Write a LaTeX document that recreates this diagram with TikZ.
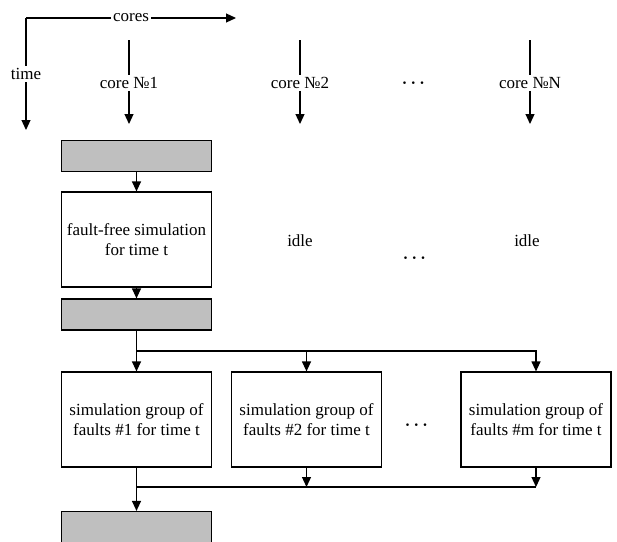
\documentclass[tikz,border=0pt]{standalone}
\usepackage{amsmath}
\usepackage{fontspec}
\setmainfont{Liberation Serif}
\usetikzlibrary{arrows.meta, positioning}

\tikzset{
  blk/.style={draw, line width=1.2pt, minimum width=150pt, minimum height=95pt, align=center, inner sep=0pt, font=\fontsize{17}{20}\selectfont},
  sync/.style={draw, line width=1.2pt, fill=gray!50, minimum width=150pt, minimum height=31pt},
  lbl/.style={fill=white, inner sep=2pt, font=\fontsize{17}{20}\selectfont},
  dotsym/.style={font=\fontsize{17}{20}\selectfont},
  flow/.style={line width=1.2pt, -{Triangle[length=10pt,width=9pt]}},
  plain/.style={line width=1.2pt},
}

\begin{document}
\begin{tikzpicture}[x=1pt,y=-1pt]
    \useasboundingbox (0,0) rectangle (617,541);
    \clip (0,0) rectangle (617,541);

    % axes
    \coordinate (origin) at (26,18);
    \draw[flow] (origin) -- (236,18) node[lbl, pos=0.5] (cores) {cores};
    \draw[flow] (origin) -- (26,130) node[lbl, pos=0.5] (time) {time};

    % cores
    \coordinate (c1top) at (129,40);  \coordinate (c1end) at (129,124);
    \coordinate (c2top) at (300,40);  \coordinate (c2end) at (300,124);
    \coordinate (cNtop) at (530,40);  \coordinate (cNend) at (530,124);
    \node[lbl] (c1) at (129,83) {core №1};
    \node[lbl] (c2) at (300,83) {core №2};
    \node[lbl] (cN) at (530,83) {core №N};
    \node[dotsym] (dots1) at (415,83) {$\boldsymbol{\cdots}$};
    \draw[plain] (c1top) -- (c1);  \draw[flow] (c1) -- (c1end);
    \draw[plain] (c2top) -- (c2);  \draw[flow] (c2) -- (c2end);
    \draw[plain] (cNtop) -- (cN);  \draw[flow] (cN) -- (cNend);

    % fault-free step
    \node[sync] (g1) at (136.5,156) {};
    \node[blk] (ff) at (136.5,239.5) {fault-free simulation\\for time t};
    \node[lbl] (idle2) at (300,241) {idle};
    \node[lbl] (idleN) at (527,241) {idle};
    \node[dotsym] (dots2) at (416,258) {$\boldsymbol{\cdots}$};
    \node[sync] (g2) at (136.5,314.5) {};
    \draw[flow] (g1) -- (ff);
    \draw[flow] (ff) -- (g2);

    % fault groups
    \coordinate (split) at (136.5,351);
    \coordinate (join) at (136.5,487);
    \node[blk] (s1) at (136.5,419.5) {simulation group of\\faults \#1 for time t};
    \node[blk] (s2) at (306.5,419.5) {simulation group of\\faults \#2 for time t};
    \node[blk] (sm) at (536,419.5) {simulation group of\\faults \#m for time t};
    \node[dotsym] (dots3) at (418,425) {$\boldsymbol{\cdots}$};
    \node[sync] (g3) at (136.5,527) {};
    \draw[plain] (g2) -- (split);
    \draw[flow] (split) -- (s1);
    \draw[flow] (split) -| (sm);
    \draw[flow] (split -| s2) -- (s2);
    \draw[plain] (s1) -- (join);
    \draw[plain] (join) -- (sm |- join);
    \draw[flow] (s2) -- (s2 |- join);
    \draw[flow] (sm) -- (sm |- join);
    \draw[flow] (join) -- (g3);
\end{tikzpicture}
\end{document}
